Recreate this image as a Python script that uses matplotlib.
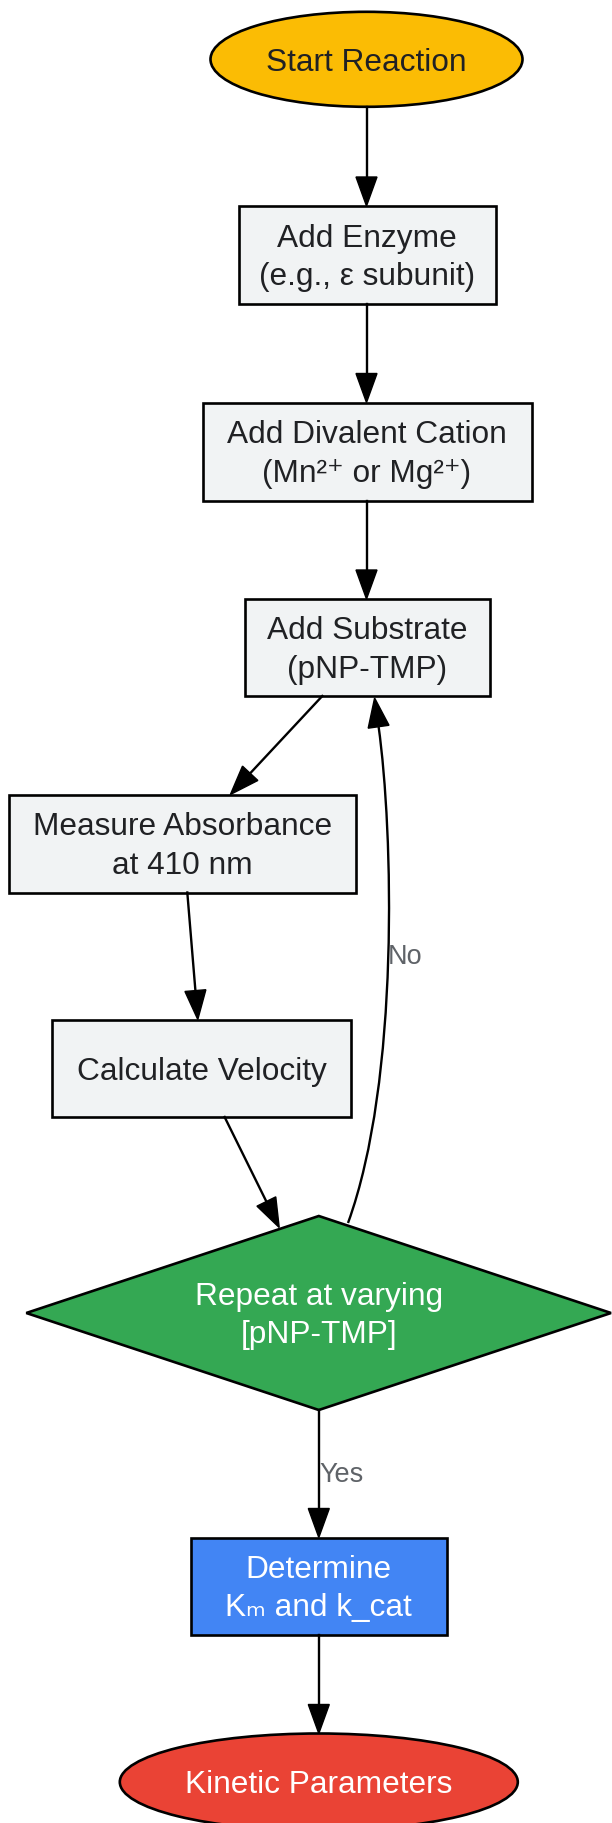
import numpy as np
import matplotlib.pyplot as plt
from matplotlib.patches import Ellipse, Rectangle, Polygon, PathPatch
from matplotlib.path import Path

# node content
labels = [
    ["Start Reaction"],
    ["Add Enzyme", "(e.g., ε subunit)"],
    ["Add Divalent Cation", "(Mn²⁺ or Mg²⁺)"],
    ["Add Substrate", "(pNP-TMP)"],
    ["Measure Absorbance", "at 410 nm"],
    ["Calculate Velocity"],
    ["Repeat at varying", "[pNP-TMP]"],
    ["Determine", "Kₘ and k_cat"],
    ["Kinetic Parameters"],
]
shapes = ["ellipse", "box", "box", "box", "box", "box", "diamond", "box", "ellipse"]
fills = ["#FBBC04", "#F1F3F4", "#F1F3F4", "#F1F3F4", "#F1F3F4", "#F1F3F4",
         "#34A853", "#4285F4", "#EA4335"]
text_colors = ["#202124"] * 6 + ["white", "white", "white"]

# straight edges (source, target) and their labels
edges = [(0, 1), (1, 2), (2, 3), (3, 4), (4, 5), (5, 6), (6, 7), (7, 8)]
edge_labels = {(6, 7): "Yes"}
loop_label = "No"

# layout in pixels: centre x, centre y, width, height
layout = [
    (366.5, 59.3, 312, 95),
    (367.0, 255.0, 257, 98),
    (367.0, 451.5, 329, 98),
    (367.0, 647.5, 245, 97),
    (182.6, 843.5, 347, 98),
    (201.9, 1068.5, 299, 97),
    (318.8, 1313.0, 585, 194),
    (318.8, 1586.0, 256, 97),
    (318.8, 1782.0, 398, 97),
]
# edge endpoints (tail, tip) in pixels
edge_pts = {
    (0, 1): ((366.5, 107), (366.5, 206)),
    (1, 2): ((366.5, 304), (366.5, 402.5)),
    (2, 3): ((366.5, 500.5), (366.5, 599)),
    (3, 4): ((322.3, 696), (230.4, 794.5)),
    (4, 5): ((187.3, 892.5), (197.8, 1019.5)),
    (5, 6): ((224.6, 1117), (279.2, 1227.5)),
    (6, 7): ((318.8, 1410), (318.8, 1537.5)),
    (7, 8): ((318.8, 1634.5), (318.8, 1733.5)),
}
loop_ctrl = [(348, 1223), (400, 1080), (393, 830), (374.6, 698)]

FONT = ["Liberation Sans", "DejaVu Sans"]
HEAD_L, HEAD_W = 29, 10.5
FS = 22.8          # node text size, pt
EM = FS * 100 / 72  # in pixels
LINE_GAP = 38.5


def arrow_head(ax, tip, direction):
    d = np.asarray(direction, float)
    d /= np.hypot(*d)
    n = np.array([-d[1], d[0]])
    tip = np.asarray(tip, float)
    base = tip - d * HEAD_L
    ax.add_patch(Polygon([tip, base + n * HEAD_W, base - n * HEAD_W],
                         closed=True, fc="black", ec="black", lw=1, zorder=3))
    return base


fig = plt.figure(figsize=(6.12, 18.23), dpi=100)
ax = fig.add_axes([0, 0, 1, 1])
ax.set_xlim(0, 612)
ax.set_ylim(1823, 0)
ax.axis("off")

for i, lines in enumerate(labels):
    cx, cy, w, h = layout[i]
    if shapes[i] == "ellipse":
        patch = Ellipse((cx, cy), w, h, fc=fills[i], ec="black", lw=1.9)
    elif shapes[i] == "diamond":
        patch = Polygon([(cx, cy - h / 2), (min(cx + w / 2, 611), cy),
                         (cx, cy + h / 2), (cx - w / 2, cy)],
                        closed=True, fc=fills[i], ec="black", lw=1.9)
    else:
        patch = Rectangle((cx - w / 2, cy - h / 2), w, h, fc=fills[i], ec="black", lw=1.9)
    ax.add_patch(patch)
    n = len(lines)
    for k, line in enumerate(lines):
        y = cy + (k - (n - 1) / 2) * LINE_GAP + 0.355 * EM
        ax.text(cx, y, line, ha="center", va="baseline", fontsize=FS,
                color=text_colors[i], family=FONT, zorder=4)

for e in edges:
    tail, tip = edge_pts[e]
    d = np.subtract(tip, tail)
    base = arrow_head(ax, tip, d)
    ax.plot([tail[0], base[0]], [tail[1], base[1]], color="black", lw=1.7, zorder=2)
    if e in edge_labels:
        ax.text(tail[0] + 1, (tail[1] + tip[1]) / 2 + 1, edge_labels[e], ha="left",
                va="center", fontsize=19.5, color="#5F6368", family=FONT)

# loop back edge "No"
p0, p1, p2, p3 = [np.array(p, float) for p in loop_ctrl]
base = arrow_head(ax, p3, p3 - p2)
path = Path([p0, p1, p2, base], [Path.MOVETO, Path.CURVE4, Path.CURVE4, Path.CURVE4])
ax.add_patch(PathPatch(path, fc="none", ec="black", lw=1.7, zorder=2))
ax.text(388, 957, loop_label, ha="left", va="center", fontsize=19.5,
        color="#5F6368", family=FONT)

fig.savefig("out.png", dpi=100, facecolor="white")
